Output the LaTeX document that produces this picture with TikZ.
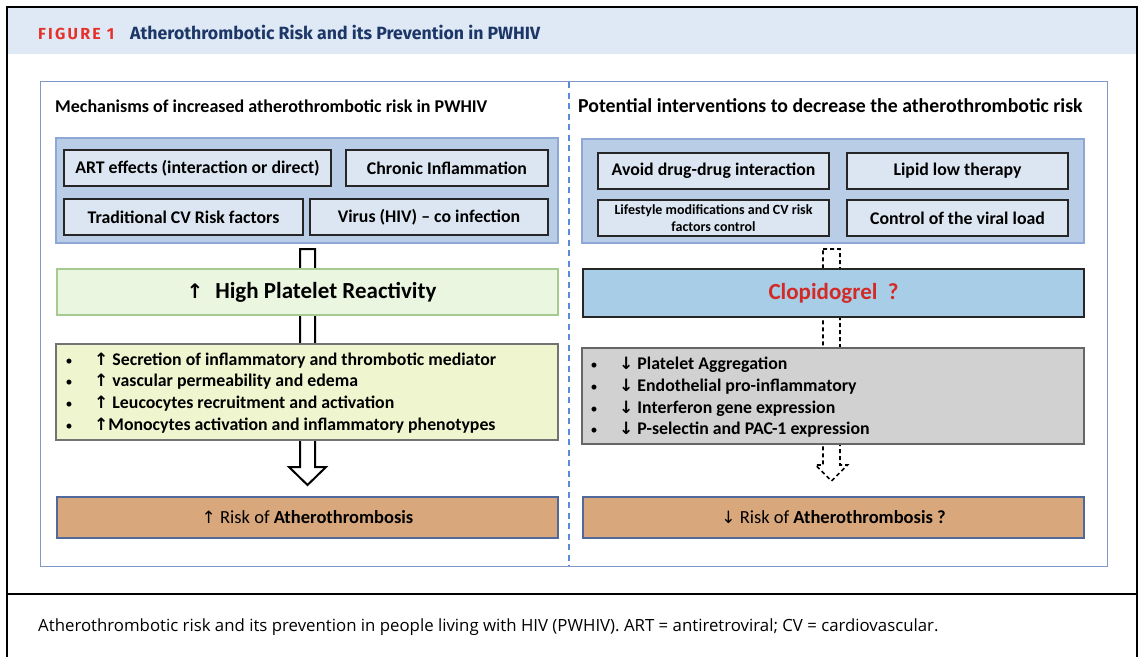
\documentclass[tikz,border=0pt]{standalone}
\usepackage{fontspec}
\setmainfont{Carlito}
\newfontfamily\capfont{Fira Sans}
\newfontfamily\notefont{Open Sans}
\newfontfamily\symfont{DejaVu Sans}
\usetikzlibrary{calc}

\definecolor{bandblue}{HTML}{DFE9F5}
\definecolor{figred}{HTML}{E4322B}
\definecolor{navy}{HTML}{1C3767}
\definecolor{panelblue}{HTML}{7F97C9}
\definecolor{divblue}{HTML}{5A8BDB}
\definecolor{grpfill}{HTML}{B9CDE6}
\definecolor{grpline}{HTML}{8DA8D6}
\definecolor{cellfill}{HTML}{DCE6F2}
\definecolor{greenfill}{HTML}{EBF6E1}
\definecolor{greenline}{HTML}{A6CB90}
\definecolor{yellowfill}{HTML}{EFF5CF}
\definecolor{clopfill}{HTML}{A8CDE7}
\definecolor{clopred}{HTML}{D42A26}
\definecolor{grayfill}{HTML}{D1D1D1}
\definecolor{riskfill}{HTML}{D8A77C}
\definecolor{riskline}{HTML}{50699A}

\newcommand\uparr{{\symfont\fontsize{17}{17}\selectfont ↑}}
\newcommand\dnarr{{\symfont\fontsize{17}{17}\selectfont ↓}}

% outlined block arrow: top point, tip point, half shaft, half head, head length, style
\newcommand\blockarrow[6]{%
  \draw[#6] ($(#1)+(-#3,0)$) -- ($(#1)+(#3,0)$) -- ($(#2)+(#3,-#5)$)
    -- ($(#2)+(#4,-#5)$) -- (#2) -- ($(#2)+(-#4,-#5)$)
    -- ($(#2)+(-#3,-#5)$) -- cycle;}

\pgfdeclarelayer{bg}
\pgfdeclarelayer{arrows}
\pgfsetlayers{bg,arrows,main}

\tikzset{
  box/.style={draw, rectangle, inner sep=0pt, outer sep=0pt, align=center},
  grp/.style={box, fill=grpfill, draw=grpline, line width=1.2pt},
  cell/.style={box, fill=cellfill, draw=black!85, line width=1.2pt,
    font=\bfseries\fontsize{17.8}{20}\selectfont},
  heading/.style={font=\bfseries\fontsize{18}{22}\selectfont, inner sep=0pt},
  bigbar/.style={box, line width=1.2pt, minimum width=501pt},
  listbox/.style={box, line width=1.1pt, minimum width=502pt, minimum height=96pt},
  riskbox/.style={box, fill=riskfill, draw=riskline, line width=1.1pt,
    minimum width=501pt, minimum height=41pt, font=\fontsize{18.5}{20}\selectfont},
  bullet/.style={anchor=base, inner sep=0pt, font=\fontsize{14}{20}\selectfont},
  item/.style={anchor=base west, inner sep=0pt, font=\bfseries\fontsize{17.8}{20}\selectfont},
  solidarrow/.style={draw=black, fill=white, line width=2pt, line join=miter},
  dasharrow/.style={draw=black, fill=white, line width=1.6pt, dash pattern=on 4pt off 3pt}
}

\begin{document}
\begin{tikzpicture}[x=1pt, y=-1pt]
\useasboundingbox (0,0) rectangle (1142,657);

\begin{pgfonlayer}{bg}
  \fill[white] (0,0) rectangle (1142,657);
  \fill[bandblue] (8,8) rectangle (1136,54);
  \draw[line width=1.8pt] (7,657) -- (7,7) -- (1137,7) -- (1137,657);
  \draw[line width=1.8pt] (7,594) -- (1137,594);
  \draw[panelblue, line width=1pt] (40,81) rectangle (1107,566);
  \draw[divblue, line width=1.4pt, dash pattern=on 6pt off 4.5pt] (569,82) -- (569,566);
\end{pgfonlayer}

% figure header
\node[anchor=base west, inner sep=0pt, text=figred,
  font=\capfont\bfseries\fontsize{16}{18}\selectfont] (figlabel) at (38,39)
  {\addfontfeature{LetterSpace=14}FIGURE 1};
\node[anchor=base west, inner sep=0pt, text=navy,
  font=\capfont\bfseries\fontsize{17.7}{20}\selectfont] (figtitle) at (130,39)
  {Atherothrombotic Risk and its Prevention in PWHIV};

% column headings
\node[heading, anchor=west] (headL) at (55,106) {Mechanisms of increased atherothrombotic risk in PWHIV};
\node[heading, anchor=west, font=\bfseries\fontsize{19.8}{22}\selectfont] (headR) at (578,106)
  {Potential interventions to decrease the atherothrombotic risk};

% ---- left column: mechanisms ----
\node[grp, minimum width=502pt, minimum height=105pt] (grpL) at (307,190.5) {};
\node[cell, minimum width=267pt, minimum height=36pt] (art) at (197.5,168) {ART effects (interaction or direct)};
\node[cell, minimum width=202pt, minimum height=36pt] (chron) at (447,168) {Chronic Inflammation};
\node[cell, minimum width=239pt, minimum height=36pt] (trad) at (183.5,217) {Traditional CV Risk factors};
\node[cell, minimum width=238pt, minimum height=36pt] (virus) at (429,217) {Virus (HIV) – co infection};

\node[bigbar, fill=greenfill, draw=greenline, minimum height=46pt,
  font=\bfseries\fontsize{23}{26}\selectfont] (hpr) at (307.5,292)
  {\hspace*{8pt}{\symfont\fontsize{20}{20}\selectfont ↑}\hspace{12pt}High Platelet Reactivity};

\node[listbox, fill=yellowfill, draw=black!55] (effL) at (307,392) {};
\foreach \t [count=\i] in {%
  \uparr\ Secretion of inflammatory and thrombotic mediator,
  \uparr\ vascular permeability and edema,
  \uparr\ Leucocytes recruitment and activation,
  \uparr{}Monocytes activation and inflammatory phenotypes}{%
  \node[bullet] (bulL\i) at (69,{343.5+21.7*\i}) {•};
  \node[item] (itemL\i) at (94,{343.5+21.7*\i}) {\t};
}

\node[riskbox] (riskL) at (307.5,517.5) {\uparr\ Risk of \textbf{Atherothrombosis}};

% ---- right column: interventions ----
\node[grp, minimum width=502pt, minimum height=104pt] (grpR) at (833,191) {};
\node[cell, minimum width=231pt, minimum height=36pt] (avoid) at (713.5,171) {Avoid drug-drug interaction};
\node[cell, minimum width=221pt, minimum height=36pt] (lipid) at (957.5,171) {Lipid low therapy};
\node[cell, minimum width=231pt, minimum height=36pt,
  font=\bfseries\fontsize{14}{16.5}\selectfont] (life) at (713.5,218)
  {Lifestyle modifications and CV risk\\factors control};
\node[cell, minimum width=221pt, minimum height=36pt] (viral) at (957.5,218) {Control of the viral load};

\node[bigbar, fill=clopfill, draw=black!85, minimum height=48pt, text=clopred,
  font=\bfseries\fontsize{23}{26}\selectfont] (clop) at (833.5,293) {Clopidogrel\ \ ?};

\node[listbox, fill=grayfill, draw=black!60] (effR) at (833,396) {};
\foreach \t [count=\i] in {%
  Platelet Aggregation,
  Endothelial pro-inflammatory,
  Interferon gene expression,
  P-selectin and PAC-1 expression}{%
  \node[bullet] (bulR\i) at (594,{348+21.7*\i}) {•};
  \node[item] (itemR\i) at (619,{348+21.7*\i}) {\dnarr\ \t};
}

\node[riskbox] (riskR) at (833.5,517.5) {\dnarr\ Risk of \textbf{Atherothrombosis ?}};

% ---- block arrows running down each column ----
\coordinate (aLtop) at ($(grpL.south)+(0.5,6)$);
\coordinate (aLtip) at ($(riskL.north)+(0,-12)$);
\coordinate (aRtop) at ($(grpR.south)+(-1.5,6)$);
\coordinate (aRtip) at ($(riskR.north)+(-2,-16)$);
\begin{pgfonlayer}{arrows}
  \blockarrow{aLtop}{aLtip}{7.5}{18.5}{18}{solidarrow}
  \blockarrow{aRtop}{aRtip}{8.5}{16}{16}{dasharrow}
\end{pgfonlayer}

% caption
\node[anchor=base west, inner sep=0pt, font=\notefont\fontsize{16.8}{19}\selectfont] (caption) at (38,631)
  {Atherothrombotic risk and its prevention in people living with HIV (PWHIV). ART = antiretroviral; CV = cardiovascular.};
\end{tikzpicture}
\end{document}
